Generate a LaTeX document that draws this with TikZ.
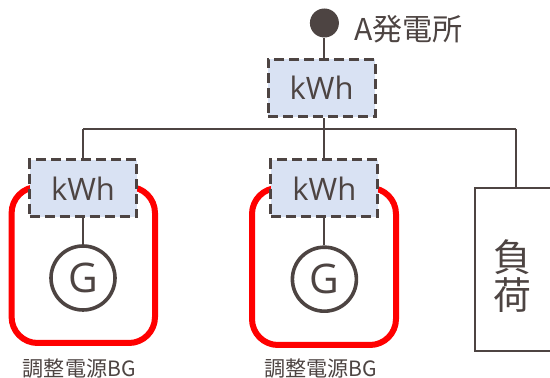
\documentclass[tikz,border=0pt]{standalone}
\usepackage{fontspec}
\setmainfont{Open Sans}
\newfontfamily\cjk{Noto Sans CJK JP}
\definecolor{darkline}{HTML}{4D4442}
\definecolor{meterblue}{HTML}{D9E2F3}
\tikzset{
    wire/.style={line width=0.05cm,darkline},
    meterbox/.style={draw=darkline,fill=meterblue,line width=0.075cm,dash pattern=on 0.25cm off 0.125cm,minimum width=2.675cm,minimum height=1.43cm,inner sep=0pt,text=darkline,font=\fontsize{22}{22}\selectfont},
    groupbox/.style={draw=red,line width=0.15cm,rounded corners=0.65cm},
    genbox/.style={circle,draw=darkline,line width=0.09cm,fill=white,minimum size=1.6cm,inner sep=0pt,text=darkline,font=\fontsize{29}{29}\selectfont},
    grouplabel/.style={text=darkline,inner sep=0pt,font=\cjk\fontsize{15}{15}\selectfont},
}
\begin{document}
\begin{tikzpicture}
    \useasboundingbox (0,0) rectangle (13.75,9.45);

    %groups
    \draw[groupbox] (0.29,0.875) rectangle (3.875,4.775);
    \draw[groupbox] (6.3,0.825) rectangle (9.9,4.75);

    %plant and meters
    \node (plantA) [circle,fill=darkline,minimum size=0.725cm,inner sep=0pt] at (8.11,8.875) {};
    \node (plantAtext) [anchor=west,text=darkline,inner sep=0pt,font=\cjk\fontsize{21.4}{21.4}\selectfont] at (8.85,8.73) {A発電所};
    \node (kwhTop) [meterbox] at (8.04,7.25) {kWh};
    \node (kwhLeft) [meterbox] at (2.075,4.74) {kWh};
    \node (kwhMid) [meterbox] at (8.11,4.74) {kWh};

    %generators
    \node (genLeft) [genbox] at (2.075,2.5) {G};
    \node (genMid) [genbox] at (8.11,2.47) {G};

    %load
    \node (load) [draw=darkline,line width=0.05cm,minimum width=2.1cm,minimum height=4.07cm,anchor=north west] at (11.85,4.77) {};
    \node (loadtext) [text=darkline,align=center,inner sep=0pt,font=\cjk\fontsize{27}{26.5}\selectfont] at (12.8,2.55) {負\\荷};

    %labels
    \node (labelLeft) [grouplabel] at (1.98,0.24) {調整電源BG};
    \node (labelMid) [grouplabel] at (8.02,0.24) {調整電源BG};

    %bus
    \coordinate (busMid) at (8.11,6.2125);
    \coordinate (busLeft) at (2.075,6.2125);
    \coordinate (busRight) at (12.9,6.2125);

    \draw[wire] (plantA) -- (plantA |- kwhTop.north);
    \draw[wire] (busMid |- kwhTop.south) -- (busMid);
    \draw[wire] (busLeft) -- (busRight);
    \draw[wire] (busLeft) -- (kwhLeft);
    \draw[wire] (busMid) -- (kwhMid);
    \draw[wire] (busRight) -- (busRight |- load.north);
    \draw[wire] (kwhLeft) -- (genLeft);
    \draw[wire] (kwhMid) -- (genMid);
\end{tikzpicture}
\end{document}
